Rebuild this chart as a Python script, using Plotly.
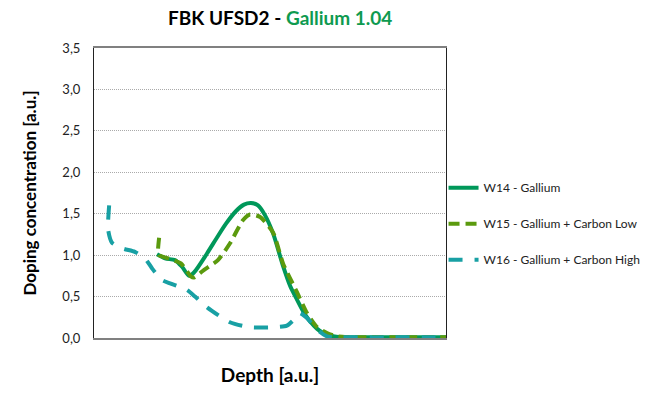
import plotly.graph_objects as go

# depth in arbitrary units (0..100 across the plot)
w14_x = [17.9, 20.2, 23.0, 25.0, 27.0, 28.4, 32.1, 34.9, 37.5, 40.3, 42.6, 44.6, 46.6, 48.6, 50.9, 53.7, 55.7, 57.7, 59.7, 61.4, 63.4, 65.1, 67.0, 69.9, 80.0, 100.0]
w14_y = [1.01, 0.96, 0.94, 0.86, 0.75, 0.79, 1.02, 1.21, 1.38, 1.53, 1.61, 1.63, 1.60, 1.48, 1.26, 0.87, 0.63, 0.46, 0.30, 0.20, 0.11, 0.06, 0.03, 0.01, 0.01, 0.01]

w15_x = [18.5, 18.2, 18.5, 21.9, 24.7, 27.6, 28.4, 31.2, 35.2, 38.6, 42.3, 44.3, 47.2, 50.9, 53.7, 57.7, 60.5, 63.4, 66.2, 69.0, 72.0, 100.0]
w15_y = [1.21, 1.06, 1.00, 0.95, 0.90, 0.74, 0.73, 0.82, 0.94, 1.14, 1.42, 1.49, 1.46, 1.27, 0.90, 0.55, 0.30, 0.13, 0.06, 0.02, 0.01, 0.01]

w16_x = [4.3, 4.0, 5.1, 8.2, 11.6, 14.5, 16.5, 19.3, 21.6, 26.4, 28.7, 32.1, 38.6, 44.3, 50.9, 54.8, 57.7, 58.5, 60.5, 63.4, 66.2, 69.0, 100.0]
w16_y = [1.60, 1.31, 1.15, 1.08, 1.04, 0.96, 0.84, 0.70, 0.66, 0.58, 0.50, 0.37, 0.19, 0.13, 0.13, 0.15, 0.26, 0.30, 0.24, 0.10, 0.02, 0.01, 0.01]

y_ticks = [0, 0.5, 1.0, 1.5, 2.0, 2.5, 3.0, 3.5]
y_labels = ["0,0", "0,5", "1,0", "1,5", "2,0", "2,5", "3,0", "3,5"]

fnt = "Lato, 'Open Sans', sans-serif"

fig = go.Figure()
fig.add_trace(go.Scatter(x=w14_x, y=w14_y, mode="lines", name="W14 - Gallium", legendgroup="a",
                         line=dict(color="#00985a", width=4, shape="spline", smoothing=0.7)))
fig.add_trace(go.Scatter(x=w15_x, y=w15_y, mode="lines", name="W15 - Gallium + Carbon Low", legendgroup="b",
                         line=dict(color="#5b9a0e", width=4, dash="11px,6px", shape="spline", smoothing=0.6)))
fig.add_trace(go.Scatter(x=w16_x, y=w16_y, mode="lines", name="W16 - Gallium + Carbon High", legendgroup="c",
                         line=dict(color="#18a0a4", width=4, dash="14px,12px", shape="spline", smoothing=0.6)))

fig.update_layout(
    width=664, height=399,
    margin=dict(l=94, r=218, t=48, b=61),
    paper_bgcolor="white", plot_bgcolor="white",
    font=dict(family=fnt, size=12, color="#222"),
    title=dict(text="<b>FBK UFSD2 - <span style='color:#0e9a50'>Gallium 1.04</span></b>",
               x=0.422, xanchor="center", y=0.955, yanchor="middle",
               font=dict(size=19, color="black")),
    showlegend=True,
    legend=dict(x=0.993, xanchor="left", y=0.568, yanchor="top",
                font=dict(size=12, color="#222"), tracegroupgap=17,
                bgcolor="rgba(0,0,0,0)"),
    xaxis=dict(range=[0, 100], showticklabels=False, ticks="", showgrid=False,
               zeroline=False, showline=True, linecolor="#808080", linewidth=1.5, mirror=True,
               title=dict(text="<b>Depth [a.u.]</b>", font=dict(size=19, color="black"), standoff=30)),
    yaxis=dict(range=[0, 3.5], tickvals=y_ticks, ticktext=y_labels, showgrid=True,
               gridcolor="#aaaaaa", griddash="1px,1px", gridwidth=1, zeroline=False,
               showline=True, linecolor="#222", linewidth=1, mirror=True, ticks="",
               ticklabelstandoff=10,
               tickfont=dict(size=13, color="#222"),
               title=dict(text="<b>Doping concentration [a.u.]</b>", font=dict(size=17, color="black"), standoff=21)),
)

fig.write_html("out.html", config={"displayModeBar": False},
               post_script="document.body.style.margin='0';")
